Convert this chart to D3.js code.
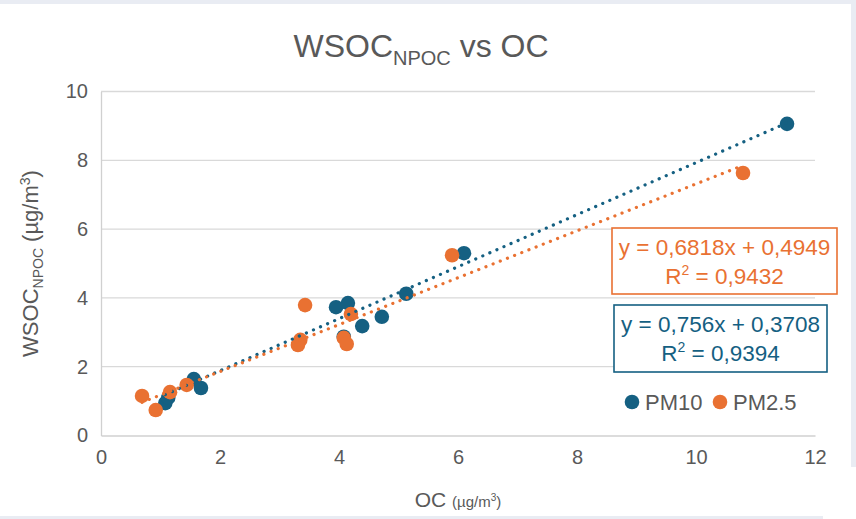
<!DOCTYPE html>
<html lang="es">
<head>
<meta charset="UTF-8">
<title>WSOC vs OC</title>
<script src="https://d3js.org/d3.v7.min.js"></script>
<style>
  html, body { margin: 0; padding: 0; background: #ffffff; }
  svg { display: block; font-family: "Liberation Sans", Arial, sans-serif; }
</style>
</head>
<body>
<div id="chart"></div>
<script>
// PM10 samples: OC (x) and WSOC_NPOC (y), µg/m³
const pm10X = [1.08, 1.13, 1.56, 1.68, 3.95, 4.15, 4.39, 4.72, 5.13, 4.08, 6.10, 11.53];
const pm10Y = [0.94, 1.10, 1.64, 1.38, 3.73, 3.85, 3.18, 3.45, 4.12, 2.87, 5.30, 9.06];

// PM2.5 samples
const pm25X = [0.69, 0.92, 1.16, 1.44, 3.43, 3.35, 3.31, 4.20, 4.08, 4.13, 5.90, 10.79];
const pm25Y = [1.15, 0.74, 1.26, 1.47, 3.79, 2.78, 2.63, 3.53, 2.84, 2.66, 5.24, 7.63];

// linear trend lines (slope, intercept, R²)
const pm10Fit = { slope: 0.756, intercept: 0.3708, r2: 0.9394 };
const pm25Fit = { slope: 0.6818, intercept: 0.4949, r2: 0.9432 };

const xTicks = [0, 2, 4, 6, 8, 10, 12];
const yTicks = [0, 2, 4, 6, 8, 10];

const width = 856, height = 519;
const blue = "#156082", orange = "#E97132", textGrey = "#595959";
const fmt = v => String(v).replace(".", ",");

const svg = d3.select("#chart").append("svg")
    .attr("width", width)
    .attr("height", height);

// light frame around the chart area
svg.append("rect").attr("x", 0).attr("y", 0).attr("width", width).attr("height", 4).attr("fill", "#e9ecf3");
svg.append("rect").attr("x", 851).attr("y", 0).attr("width", 5).attr("height", 467).attr("fill", "#e9ecf3");
svg.append("rect").attr("x", 0).attr("y", 516).attr("width", 823).attr("height", 3).attr("fill", "#e9ecf3");

const x = d3.scaleLinear().domain([0, 12]).range([101, 815]);
const y = d3.scaleLinear().domain([0, 10]).range([435.5, 91.5]);

// horizontal gridlines
svg.append("g")
  .selectAll("line")
  .data(yTicks.slice(1))
  .join("line")
    .attr("x1", x(0)).attr("x2", x(12))
    .attr("y1", d => y(d)).attr("y2", d => y(d))
    .attr("stroke", "#d9d9d9").attr("stroke-width", 1.3);

// axes
const xAxis = svg.append("g")
    .attr("transform", `translate(0,${y(0)})`)
    .call(d3.axisBottom(x).tickValues(xTicks).tickSize(0).tickPadding(14));
const yAxis = svg.append("g")
    .attr("transform", `translate(${x(0)},0)`)
    .call(d3.axisLeft(y).tickValues(yTicks).tickSize(0).tickPadding(13));

[xAxis, yAxis].forEach(g => {
  g.select(".domain").attr("stroke", "#d0d0d0").attr("stroke-width", 1.3);
  g.selectAll("text").attr("fill", textGrey).style("font-size", "20px")
    .style("font-family", "'Liberation Sans', Arial, sans-serif");
});

// markers
function drawPoints(xs, ys, color) {
  svg.append("g")
    .selectAll("circle")
    .data(xs.map((v, i) => [v, ys[i]]))
    .join("circle")
      .attr("cx", d => x(d[0]))
      .attr("cy", d => y(d[1]))
      .attr("r", 7.3)
      .attr("fill", color);
}
drawPoints(pm10X, pm10Y, blue);
drawPoints(pm25X, pm25Y, orange);

// dotted trend lines across the range of each series
function drawTrend(xs, fit, color) {
  const [x0, x1] = d3.extent(xs);
  svg.append("line")
    .attr("x1", x(x0)).attr("y1", y(fit.slope * x0 + fit.intercept))
    .attr("x2", x(x1)).attr("y2", y(fit.slope * x1 + fit.intercept))
    .attr("stroke", color)
    .attr("stroke-width", 3.2)
    .attr("stroke-linecap", "round")
    .attr("stroke-dasharray", "0.1 7.6");
}
drawTrend(pm10X, pm10Fit, blue);
drawTrend(pm25X, pm25Fit, orange);

// equation labels
function drawEquation(fit, color, box) {
  const g = svg.append("g");
  g.append("rect")
    .attr("x", box.x).attr("y", box.y)
    .attr("width", box.w).attr("height", box.h)
    .attr("fill", "#ffffff")
    .attr("stroke", color).attr("stroke-width", 1.6);
  const cx = box.x + box.w / 2;
  g.append("text")
    .attr("x", cx).attr("y", box.y + 27)
    .attr("text-anchor", "middle")
    .attr("fill", color).style("font-size", "22.5px")
    .text(`y = ${fmt(fit.slope)}x + ${fmt(fit.intercept)}`);
  const t2 = g.append("text")
    .attr("x", cx).attr("y", box.y + 56)
    .attr("text-anchor", "middle")
    .attr("fill", color).style("font-size", "22.5px");
  t2.append("tspan").text("R");
  t2.append("tspan").attr("dy", -9).style("font-size", "14px").text("2");
  t2.append("tspan").attr("dy", 9).text(` = ${fmt(fit.r2)}`);
}
drawEquation(pm25Fit, orange, { x: 612, y: 228, w: 225, h: 66 });
drawEquation(pm10Fit, blue, { x: 614, y: 305, w: 213, h: 67 });

// legend
const legend = svg.append("g").attr("transform", "translate(632,402)");
[["PM10", blue, 0], ["PM2.5", orange, 88]].forEach(([name, color, dx]) => {
  legend.append("circle").attr("cx", dx).attr("cy", 0).attr("r", 7.3).attr("fill", color);
  legend.append("text")
    .attr("x", dx + 13).attr("y", 8)
    .attr("fill", textGrey).style("font-size", "22px")
    .text(name);
});

// chart title
const title = svg.append("text")
    .attr("x", 421).attr("y", 57)
    .attr("text-anchor", "middle")
    .attr("fill", textGrey)
    .style("font-size", "32px");
title.append("tspan").text("WSOC");
title.append("tspan").attr("dy", 8).style("font-size", "20px").text("NPOC");
title.append("tspan").attr("dy", -8).text(" vs OC");

// x axis title
const xTitle = svg.append("text")
    .attr("x", x(6)).attr("y", 507)
    .attr("text-anchor", "middle")
    .attr("fill", textGrey)
    .style("font-size", "21px");
xTitle.append("tspan").text("OC ");
xTitle.append("tspan").style("font-size", "15px").text("(µg/m");
xTitle.append("tspan").attr("dy", -6).style("font-size", "10px").text("3");
xTitle.append("tspan").attr("dy", 6).style("font-size", "15px").text(")");

// y axis title
const yTitle = svg.append("text")
    .attr("transform", `translate(38,${(y(0) + y(10)) / 2}) rotate(-90)`)
    .attr("text-anchor", "middle")
    .attr("fill", textGrey)
    .style("font-size", "22px");
yTitle.append("tspan").text("WSOC");
yTitle.append("tspan").attr("dy", 5).style("font-size", "14px").text("NPOC");
yTitle.append("tspan").attr("dy", -5).text(" (µg/m");
yTitle.append("tspan").attr("dy", -8).style("font-size", "14px").text("3");
yTitle.append("tspan").attr("dy", 8).text(")");
</script>
</body>
</html>
